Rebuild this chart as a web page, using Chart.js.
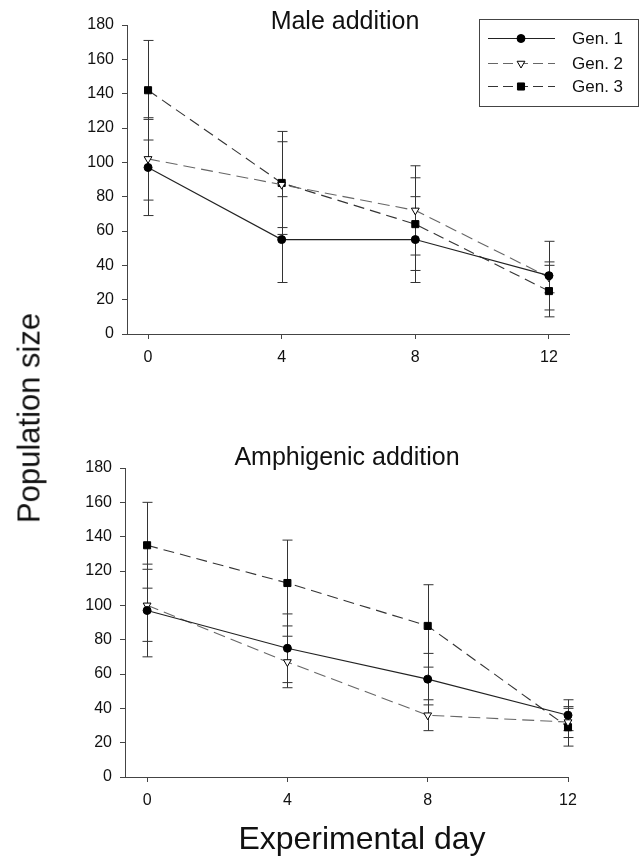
<!DOCTYPE html>
<html>
<head>
<meta charset="utf-8">
<script src="https://cdn.jsdelivr.net/npm/chart.js@4.4.1/dist/chart.umd.min.js"></script>
<style>
  html, body { margin:0; padding:0; background:#fff; }
  #wrap { position:relative; width:643px; height:866px; background:#fff; overflow:hidden;
          font-family:"Liberation Sans", Arial, sans-serif; color:#111; }
  .cv { position:absolute; left:0; width:643px; }
  .lbl { position:absolute; white-space:nowrap; line-height:1; transform:translate(-50%,-50%); }
</style>
</head>
<body>
<div id="wrap">
  <div class="cv" style="top:0;height:400px;"><canvas id="c1"></canvas></div>
  <div class="cv" style="top:440px;height:400px;"><canvas id="c2"></canvas></div>
  <div class="lbl" style="left:345px;top:20px;font-size:25px;">Male addition</div>
  <div class="lbl" style="left:347px;top:456px;font-size:25px;">Amphigenic addition</div>
  <div class="lbl" style="left:29px;top:418px;font-size:31px;transform:translate(-50%,-50%) rotate(-90deg);">Population size</div>
  <div class="lbl" style="left:362px;top:838px;font-size:32px;">Experimental day</div>
</div>
<script>
// ---- data ----
const days = [0, 4, 8, 12];
const xTicks = [0, 4, 8, 12];
const yTicks = [0, 20, 40, 60, 80, 100, 120, 140, 160, 180];
const seriesNames = ["Gen. 1", "Gen. 2", "Gen. 3"];

const maleGen1 = [97, 55, 55, 34];
const maleGen1Err = [28, 25, 25, 20];
const maleGen2 = [102, 87, 72, 33];
const maleGen2Err = [24, 25, 26, 9];
const maleGen3 = [142, 88, 64, 25];
const maleGen3Err = [29, 30, 27, 15];

const amphiGen1 = [97, 75, 57, 36];
const amphiGen1Err = [27, 20, 15, 9];
const amphiGen2 = [100, 67, 36, 32];
const amphiGen2Err = [21, 15, 9, 9];
const amphiGen3 = [135, 113, 88, 29];
const amphiGen3Err = [25, 25, 24, 11];

// ---- styles ----
const styles = [
  { color:'#222', dash:[], pointStyle:'circle', radius:4, rotation:0, fill:'#000', width:1.1 },
  { color:'#666', dash:[12,6], pointStyle:'triangle', radius:4.5, rotation:180, fill:'#fff', width:1.1 },
  { color:'#333', dash:[11,6], pointStyle:'rect', radius:5, rotation:0, fill:'#000', width:1.1 }
];

function makeDatasets(vals, errs) {
  return vals.map((v, i) => {
    const s = styles[i];
    return {
      label: seriesNames[i],
      data: days.map((d, j) => ({ x: d, y: v[j] })),
      errors: errs[i],
      borderColor: s.color,
      borderWidth: s.width,
      borderDash: s.dash,
      pointStyle: s.pointStyle,
      pointRadius: s.radius,
      pointRotation: s.rotation,
      pointBackgroundColor: s.fill,
      pointBorderColor: '#000',
      pointBorderWidth: 1,
      pointHoverRadius: s.radius,
      fill: false,
      tension: 0,
      clip: false
    };
  });
}

const errorBarPlugin = {
  id: 'errorBars',
  beforeDatasetsDraw(chart) {
    const ctx = chart.ctx, x = chart.scales.x, y = chart.scales.y;
    ctx.save();
    ctx.strokeStyle = '#333';
    ctx.lineWidth = 1;
    ctx.setLineDash([]);
    chart.data.datasets.forEach(ds => {
      ds.data.forEach((p, j) => {
        const e = ds.errors[j];
        const px = Math.round(x.getPixelForValue(p.x)) + 0.5;
        const t = y.getPixelForValue(p.y + e);
        const b = y.getPixelForValue(p.y - e);
        ctx.beginPath();
        ctx.moveTo(px, t); ctx.lineTo(px, b);
        ctx.moveTo(px - 5, t); ctx.lineTo(px + 5, t);
        ctx.moveTo(px - 5, b); ctx.lineTo(px + 5, b);
        ctx.stroke();
      });
    });
    ctx.restore();
  }
};

function drawMarker(ctx, s, cx, cy) {
  ctx.save();
  ctx.setLineDash([]);
  ctx.fillStyle = s.fill; ctx.strokeStyle = '#000'; ctx.lineWidth = 1;
  ctx.beginPath();
  if (s.pointStyle === 'circle') {
    ctx.arc(cx, cy, s.radius, 0, Math.PI * 2);
  } else if (s.pointStyle === 'rect') {
    const h = s.radius * Math.SQRT1_2;
    ctx.rect(cx - h, cy - h, 2 * h, 2 * h);
  } else {
    const r = s.radius;
    ctx.moveTo(cx, cy + r);
    ctx.lineTo(cx - r * 0.866, cy - r * 0.5);
    ctx.lineTo(cx + r * 0.866, cy - r * 0.5);
    ctx.closePath();
  }
  ctx.fill(); ctx.stroke();
  ctx.restore();
}

const boxLegendPlugin = {
  id: 'boxLegend',
  afterDraw(chart) {
    const ctx = chart.ctx;
    ctx.save();
    ctx.strokeStyle = '#444'; ctx.lineWidth = 1; ctx.setLineDash([]);
    ctx.strokeRect(479.5, 19.5, 159, 87);
    const rows = [38, 63, 86];
    chart.data.datasets.forEach((ds, i) => {
      const s = styles[i], yy = rows[i] + 0.5;
      ctx.save();
      ctx.strokeStyle = s.color; ctx.lineWidth = s.width; ctx.setLineDash(s.dash.length ? [10, 5] : []);
      ctx.beginPath(); ctx.moveTo(488, yy); ctx.lineTo(555, yy); ctx.stroke();
      ctx.restore();
      drawMarker(ctx, s, 521, yy);
      ctx.fillStyle = '#111';
      ctx.font = '17px "Liberation Sans", Arial, sans-serif';
      ctx.textBaseline = 'middle';
      ctx.fillText(ds.label, 572, yy + 1);
    });
    ctx.restore();
  }
};

function makeChart(id, datasets, xmax, yAxisWidth, padRight, padTop, padBottom, extraPlugins) {
  return new Chart(document.getElementById(id), {
    type: 'line',
    data: { datasets },
    options: {
      responsive: true,
      maintainAspectRatio: false,
      animation: false,
      events: [],
      layout: { padding: { left: 0, right: padRight, top: padTop, bottom: padBottom } },
      plugins: { legend: { display: false }, tooltip: { enabled: false }, title: { display: false } },
      scales: {
        x: {
          type: 'linear', min: -0.63, max: xmax,
          afterBuildTicks: sc => { sc.ticks = xTicks.map(v => ({ value: v })); },
          afterFit: sc => { sc.height = 40; },
          grid: { display: true, drawOnChartArea: false, drawTicks: true, tickLength: 5, tickColor: '#444', color: '#444' },
          border: { display: true, color: '#444', width: 1 },
          ticks: { color: '#111', font: { family: '"Liberation Sans", Arial, sans-serif', size: 16 }, padding: 9, maxRotation: 0, autoSkip: false }
        },
        y: {
          type: 'linear', min: 0, max: 180,
          afterBuildTicks: sc => { sc.ticks = yTicks.map(v => ({ value: v })); },
          afterFit: sc => { sc.width = yAxisWidth; },
          grid: { display: true, drawOnChartArea: false, drawTicks: true, tickLength: 5, tickColor: '#444', color: '#444' },
          border: { display: true, color: '#444', width: 1 },
          ticks: { color: '#111', font: { family: '"Liberation Sans", Arial, sans-serif', size: 16 }, padding: 8, autoSkip: false }
        }
      }
    },
    plugins: [errorBarPlugin].concat(extraPlugins || [])
  });
}

makeChart('c1',
  makeDatasets([maleGen1, maleGen2, maleGen3], [maleGen1Err, maleGen2Err, maleGen3Err]),
  12.6, 127, 74, 25, 26, [boxLegendPlugin]);

makeChart('c2',
  makeDatasets([amphiGen1, amphiGen2, amphiGen3], [amphiGen1Err, amphiGen2Err, amphiGen3Err]),
  12, 125, 75, 28, 23, []);
</script>
</body>
</html>
